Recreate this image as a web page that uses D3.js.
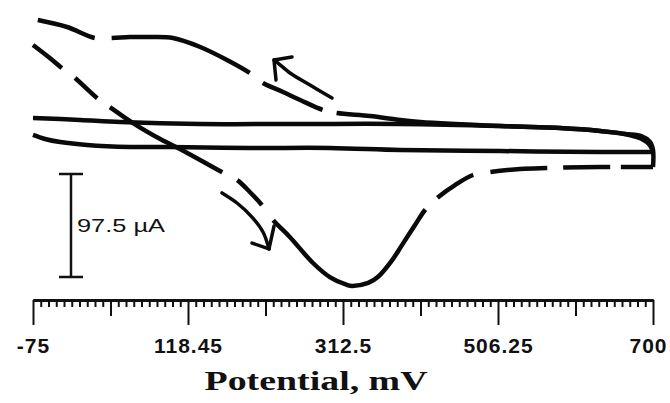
<!DOCTYPE html>
<html>
<head>
<meta charset="utf-8">
<script src="https://cdn.jsdelivr.net/npm/d3@7"></script>
<style>
  body { margin: 0; background: #fff; }
</style>
</head>
<body>
<script>
// Cyclic voltammogram: blank (solid) vs sample (dashed)

var outerWidth = 670,
    outerHeight = 403;

// potential axis, mV
var majorTicks = [-75, 118.75, 312.5, 506.25, 700];
var majorLabels = ['-75', '118.45', '312.5', '506.25', '700'];
var minorPerMajor = 20;

// blank scan, forward (lower solid line)
var blankFwdE = [-75, -60, -41, -7.5, 46, 96, 196, 296, 384, 509, 634, 684, 700];
var blankFwdI = [-4.7, -8.5, -11.4, -14.2, -16.1, -16.1, -17.0, -17.0, -18.9, -19.9, -20.8, -20.8, -20.8];
// blank scan, reverse (upper solid line)
var blankRevE = [700, 696, 686, 665, 634, 584, 509, 384, 259, 134, 34, -16, -75];
var blankRevI = [-20.8, -14.2, -8.5, -3.8, -0.9, 1.9, 3.8, 5.7, 5.7, 5.7, 7.6, 9.5, 11.4];

// sample scan, forward (dashed, solid through the peak)
var sampleFwdE = [-75, -54, -39, -22.5, 5, 21, 50, 84, 111, 161, 180, 196, 211, 225, 246, 275, 296, 317.5,
                  324, 344, 356, 374, 386, 402.5, 415, 430, 452.5, 475, 496, 534, 567.5, 634, 700];
var sampleFwdI = [80.5, 68.2, 58.7, 49.2, 30.3, 21.8, 6.6, -8.5, -18.9, -39.8, -47.3, -58.7, -71.0, -85.2,
                  -101.3, -125.9, -139.2, -146.7, -147.7, -144.8, -139.2, -123.1, -109.2, -90.0, -75.7,
                  -64.4, -52.1, -42.6, -39.8, -36.9, -36.0, -35.0, -35.0];
// sample scan, reverse
var sampleRevE = [700, 700, 696, 686, 665, 634, 584, 509, 409, 384, 346, 305, 287.5, 259, 237.5, 212.5,
                  196, 167.5, 134, 100, 71, 46, 24, 2.5, -32.5, -69];
var sampleRevI = [-35.0, -18.9, -11.0, -6.0, -3.8, -0.9, 1.9, 3.8, 7.6, 9.5, 13.3, 16.1, 18.9, 28.4, 36.0,
                  44.5, 54.0, 66.3, 78.6, 87.1, 88.0, 88.0, 87.1, 87.1, 97.5, 104.1];

// breaks in the dashed sample trace (potential ranges)
var sampleFwdGaps = [[-39, -22.5], [5, 21], [161, 180], [211, 225], [415, 430], [475, 496], [567.5, 587.5], [646, 659]];
var sampleRevGaps = [[287.5, 305], [196, 212.5], [2.5, 24]];

// direction arrows: shaft points, then head (wing, tip, wing)
var arrowRevE = [298.75, 271.25, 246.25, 231.25, 226.25];
var arrowRevI = [30.3, 42.6, 54.0, 63.4, 66.3];
var arrowRevHeadE = [248.75, 226.25, 228.75];
var arrowRevHeadI = [69.1, 66.3, 47.3];

var arrowFwdE = [161.25, 180, 198.75, 212.5, 220];
var arrowFwdI = [-59.6, -69.1, -82.4, -96.6, -112.6];
var arrowFwdHeadE = [198.75, 220, 226.25];
var arrowFwdHeadI = [-107.0, -112.6, -90.9];

// current scale bar
var scaleBarE = -27.5,
    scaleBarTop = -41.65,
    scaleBarSpan = 97.5,
    scaleBarLabel = '97.5 \u00B5A';

var xScale = d3.scaleLinear().domain([-75, 700]).range([33, 653]);
var yScale = d3.scaleLinear().domain([0, 97.5]).range([130, 27]);

var svg = d3.select('body').append('svg')
  .attr('width', outerWidth)
  .attr('height', outerHeight);

function zip(es, is) {
  return es.map(function(e, i) { return [e, is[i]]; });
}

var line = d3.line()
  .x(function(d) { return xScale(d[0]); })
  .y(function(d) { return yScale(d[1]); })
  .curve(d3.curveCatmullRom.alpha(0.5));

var straight = d3.line()
  .x(function(d) { return xScale(d[0]); })
  .y(function(d) { return yScale(d[1]); });

function trace(pts, width) {
  return svg.append('path')
    .attr('d', line(pts))
    .attr('fill', 'none')
    .attr('stroke', '#0a0a0a')
    .attr('stroke-width', width)
    .attr('stroke-linejoin', 'round');
}

// turn the gap ranges into a dash pattern along the drawn path
function dashGaps(path, gaps) {
  var node = path.node(),
      len = node.getTotalLength(),
      runs = [], on = true, run = 0;
  for (var l = 0; l <= len; l += 0.5) {
    var e = xScale.invert(node.getPointAtLength(l).x);
    var vis = !gaps.some(function(g) { return e >= g[0] && e <= g[1]; });
    if (vis === on) run += 0.5;
    else { runs.push(run); run = 0.5; on = vis; }
  }
  runs.push(run);
  path.attr('stroke-dasharray', runs.join(' '));
}

trace(zip(blankFwdE, blankFwdI), 4.5);
trace(zip(blankRevE, blankRevI), 4.5);
dashGaps(trace(zip(sampleFwdE, sampleFwdI), 4.5), sampleFwdGaps);
dashGaps(trace(zip(sampleRevE, sampleRevI), 4.5), sampleRevGaps);

// arrows
[[arrowRevE, arrowRevI, arrowRevHeadE, arrowRevHeadI],
 [arrowFwdE, arrowFwdI, arrowFwdHeadE, arrowFwdHeadI]].forEach(function(a) {
  trace(zip(a[0], a[1]), 3.5).attr('stroke-linecap', 'round');
  svg.append('path')
    .attr('d', straight(zip(a[2], a[3])))
    .attr('fill', 'none')
    .attr('stroke', '#0a0a0a')
    .attr('stroke-width', 3.5)
    .attr('stroke-linecap', 'round')
    .attr('stroke-linejoin', 'round');
});

// scale bar
var sbx = xScale(scaleBarE),
    sbTop = yScale(scaleBarTop),
    sbBot = yScale(scaleBarTop - scaleBarSpan);
var sb = svg.append('g').attr('stroke', '#111').attr('stroke-width', 2.5);
sb.append('line').attr('x1', sbx).attr('x2', sbx).attr('y1', sbTop).attr('y2', sbBot);
sb.append('line').attr('x1', sbx - 12).attr('x2', sbx + 12).attr('y1', sbTop).attr('y2', sbTop);
sb.append('line').attr('x1', sbx - 12).attr('x2', sbx + 12).attr('y1', sbBot).attr('y2', sbBot);
svg.append('text')
  .attr('x', sbx + 6)
  .attr('y', (sbTop + sbBot) / 2 + 7)
  .attr('font-family', 'Liberation Sans, Arial, sans-serif')
  .attr('font-size', 18)
  .attr('textLength', 88)
  .attr('lengthAdjust', 'spacingAndGlyphs')
  .attr('fill', '#111')
  .text(scaleBarLabel);

// potential axis
var axisY = 300;
var step = (majorTicks[1] - majorTicks[0]) / minorPerMajor;
var allTicks = d3.range(0, minorPerMajor * (majorTicks.length - 1) + 1).map(function(i) {
  return majorTicks[0] + i * step;
});
var minorTicks = allTicks.filter(function(d, i) { return i % minorPerMajor !== 0 && i % (minorPerMajor / 2) !== 0; });
var midTicks = allTicks.filter(function(d, i) { return i % minorPerMajor !== 0 && i % (minorPerMajor / 2) === 0; });

function axisLayer(values, size) {
  var g = svg.append('g')
    .attr('transform', 'translate(0,' + axisY + ')')
    .call(d3.axisBottom(xScale).tickValues(values).tickSize(size).tickSizeOuter(0));
  g.selectAll('line').attr('stroke', '#111').attr('stroke-width', 2);
  g.select('.domain').attr('stroke', '#111').attr('stroke-width', 2.5);
  return g;
}

axisLayer(minorTicks, 7).selectAll('text').remove();
axisLayer(midTicks, 16).selectAll('text').remove();
var major = axisLayer(majorTicks, 25);
major.selectAll('text')
  .text(function(d, i) { return majorLabels[i]; })
  .attr('y', 53)
  .attr('dy', 0)
  .attr('fill', '#111')
  .attr('font-family', 'Liberation Sans, Arial, sans-serif')
  .attr('font-weight', 'bold')
  .attr('font-size', 21)
  .attr('letter-spacing', 1);
// last label sits inside the right edge
major.selectAll('text')
  .filter(function(d, i) { return i === majorTicks.length - 1; })
  .attr('text-anchor', 'end')
  .attr('x', 14);

svg.append('text')
  .attr('x', 316)
  .attr('y', 390)
  .attr('text-anchor', 'middle')
  .attr('font-family', 'Liberation Serif, Times New Roman, serif')
  .attr('font-weight', 'bold')
  .attr('font-size', 28)
  .attr('textLength', 223)
  .attr('lengthAdjust', 'spacingAndGlyphs')
  .attr('fill', '#111')
  .text('Potential, mV');
</script>
</body>
</html>
